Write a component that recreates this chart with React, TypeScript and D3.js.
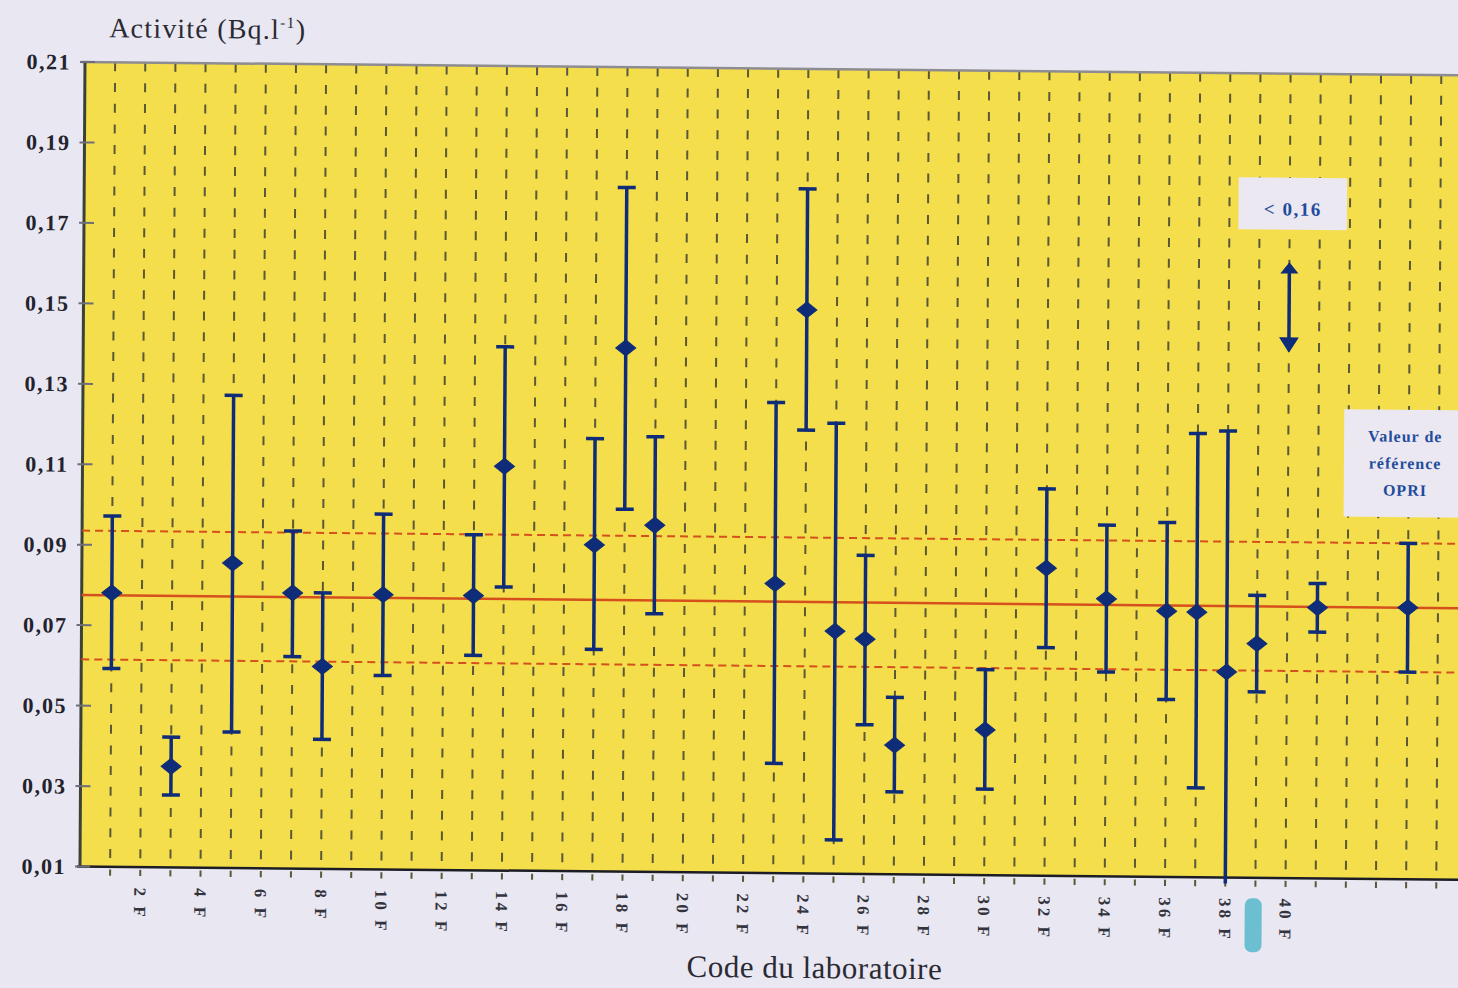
import * as d3 from "d3";

// laboratoires (code n° F) : valeur, borne basse, borne haute (Bq/l)
const labCodes = [1, 3, 5, 7, 8, 10, 13, 14, 17, 18, 19, 23, 24, 25, 26, 27, 30, 32, 34, 36, 37, 38, 39, 41];
const labValues = [0.0781, 0.0351, 0.0858, 0.0785, 0.0603, 0.0783, 0.0783, 0.1105, 0.0912, 0.1402, 0.0962, 0.082, 0.1501, 0.0703, 0.0684, 0.0421, 0.0461, 0.0865, 0.079, 0.0761, 0.0759, 0.0611, 0.0682, 0.0773];
const labLow = [0.0593, 0.028, 0.0438, 0.0627, 0.0422, 0.0582, 0.0634, 0.0805, 0.0652, 0.1001, 0.0742, 0.0373, 0.1202, 0.0184, 0.0471, 0.0305, 0.0314, 0.0667, 0.0608, 0.0541, 0.0322, 0.0085, 0.0562, 0.0712];
const labHigh = [0.0972, 0.0424, 0.1275, 0.0939, 0.0786, 0.0983, 0.0934, 0.1402, 0.1176, 0.1801, 0.1182, 0.127, 0.1802, 0.122, 0.0892, 0.054, 0.0611, 0.1062, 0.0973, 0.0981, 0.1203, 0.121, 0.0802, 0.0833];

// valeur de référence OPRI
const refPosition = 44;
const refValue = 0.0775;
const refLow = 0.0615;
const refHigh = 0.0935;

// résultat donné en limite (< 0,16)
const limitCode = 40;
const limitTop = 0.1629;
const limitBottom = 0.1408;
const limitLabel = "< 0,16";

const yTicks = [0.01, 0.03, 0.05, 0.07, 0.09, 0.11, 0.13, 0.15, 0.17, 0.19, 0.21];
const xTickCodes = [2, 4, 6, 8, 10, 12, 14, 16, 18, 20, 22, 24, 26, 28, 30, 32, 34, 36, 38, 40];
const gridCodes = d3.range(1, 47);

const W = 1458;
const H = 988;
const serif = "'Liberation Serif', 'DejaVu Serif', serif";
const navy = "#0f2c78";
const red = "#d5501d";

const x = d3.scaleLinear().domain([0, 45]).range([80, 80 + 30.14 * 45]);
const y = d3.scaleLinear().domain([0.01, 0.21]).range([866.5, 62]);
const fmt = (v: number) => d3.format(".2f")(v).replace(".", ",");

// the scanned page is slightly skewed
const skew = `matrix(1, 0.0096, -0.0062, 1, ${0.0062 * 866.5}, ${-0.0096 * 80})`;

function ErrorBar({ pos, v, lo, hi }: { pos: number; v: number; lo: number; hi: number }) {
  const cx = x(pos);
  const cy = y(v);
  return (
    <g stroke={navy} fill={navy}>
      <line x1={cx} x2={cx} y1={y(hi)} y2={y(lo)} strokeWidth={3.5} />
      <line x1={cx - 9} x2={cx + 9} y1={y(hi)} y2={y(hi)} strokeWidth={3.5} />
      {lo >= 0.01 && <line x1={cx - 9} x2={cx + 9} y1={y(lo)} y2={y(lo)} strokeWidth={3.5} />}
      <path d={`M${cx - 10},${cy} L${cx},${cy - 8} L${cx + 10},${cy} L${cx},${cy + 8} Z`} strokeWidth={1} />
    </g>
  );
}

export default function App() {
  const [x0, x1] = [80, 1480];
  const y0 = y(0.21);
  const yb = y(0.01);
  const lx = x(limitCode);
  return (
    <svg width={W} height={H} style={{ position: "absolute", left: 0, top: 0 }}>
      <rect width={W} height={H} fill="#e9e7f1" />
      <g transform={skew}>
        <rect x={x0} y={y0} width={x1 - x0} height={yb - y0} fill="#f4de4c" />

        {gridCodes.map((c) => (
          <line key={c} x1={x(c)} x2={x(c)} y1={y0} y2={yb + 9} stroke="#5b5838" strokeWidth={2} strokeDasharray="9 11.7" />
        ))}

        {/* axes */}
        <line x1={76} x2={x1} y1={y0} y2={y0} stroke="#8e8c90" strokeWidth={2.5} />
        <line x1={x0} x2={x0} y1={y0} y2={yb} stroke="#3a4238" strokeWidth={3} />
        <line x1={x0 - 3} x2={x1} y1={yb} y2={yb} stroke="#1b1c24" strokeWidth={2.5} />
        {yTicks.map((t) => (
          <g key={t}>
            <line x1={75} x2={90} y1={y(t)} y2={y(t)} stroke="#6e6e78" strokeWidth={2} />
            <text x={66} y={y(t)} dy="0.35em" textAnchor="end" fontFamily={serif} fontWeight="bold" fontSize={22} letterSpacing={1.5} fill="#22232e">
              {fmt(t)}
            </text>
          </g>
        ))}
        {xTickCodes.map((c) => (
          <text key={c} transform={`translate(${x(c)},887) rotate(90)`} dy="0.35em" fontFamily={serif} fontWeight="bold" fontSize={17} letterSpacing={3} fill="#33343e">
            {`${c} F`}
          </text>
        ))}
        <rect x={x(38.65)} y={887} width={17} height={54} rx={7} fill="#6cbfd0" />

        {/* valeur de référence et incertitude */}
        <line x1={x0} x2={x1} y1={y(refValue)} y2={y(refValue)} stroke={red} strokeWidth={2.5} />
        <line x1={x0} x2={x1} y1={y(refHigh)} y2={y(refHigh)} stroke={red} strokeWidth={2} strokeDasharray="8 5" />
        <line x1={x0} x2={x1} y1={y(refLow)} y2={y(refLow)} stroke={red} strokeWidth={2} strokeDasharray="8 5" />

        {labCodes.map((c, i) => (
          <ErrorBar key={c} pos={c} v={labValues[i]} lo={labLow[i]} hi={labHigh[i]} />
        ))}
        <ErrorBar pos={refPosition} v={refValue} lo={refLow} hi={refHigh} />

        {/* limite < 0,16 */}
        <g stroke={navy} fill={navy}>
          <line x1={lx} x2={lx} y1={y(limitTop) + 4} y2={y(limitBottom) - 10} strokeWidth={3.5} />
          <path d={`M${lx - 8},${y(limitTop) + 10} L${lx},${y(limitTop)} L${lx + 8},${y(limitTop) + 10} Z`} strokeWidth={1} />
          <path d={`M${lx - 9},${y(limitBottom) - 14} L${lx},${y(limitBottom)} L${lx + 9},${y(limitBottom) - 14} Z`} strokeWidth={1} />
        </g>
        <rect x={x(38.3)} y={y(0.1841)} width={x(41.9) - x(38.3)} height={y(0.1712) - y(0.1841)} fill="#ebe8f2" />
        <text x={x(40.1)} y={y(0.1712) - 14} textAnchor="middle" fontFamily={serif} fontWeight="bold" fontSize={19} letterSpacing={1.5} fill="#1f4c9c">
          {limitLabel}
        </text>

        <rect x={x(41.85)} y={y(0.1267)} width={x1 - x(41.85)} height={y(0.1) - y(0.1267)} fill="#ebe8f2" />
        {["Valeur de", "référence", "OPRI"].map((s, i) => (
          <text key={s} x={x(43.88)} y={423.5 + i * 27} dy="0.35em" textAnchor="middle" fontFamily={serif} fontWeight="bold" fontSize={16} letterSpacing={1} fill="#1f4c9c">
            {s}
          </text>
        ))}

        {/* titres */}
        <text x={104} y={37} fontFamily={serif} fontSize={28} letterSpacing={1.2} fill="#2a2a34">
          Activité (Bq.l<tspan dy={-11} fontSize={16}>-1</tspan><tspan dy={11}>)</tspan>
        </text>
        <text x={815} y={971} textAnchor="middle" fontFamily={serif} fontSize={31} letterSpacing={0.5} fill="#2a2a34">
          Code du laboratoire
        </text>
      </g>
    </svg>
  );
}
